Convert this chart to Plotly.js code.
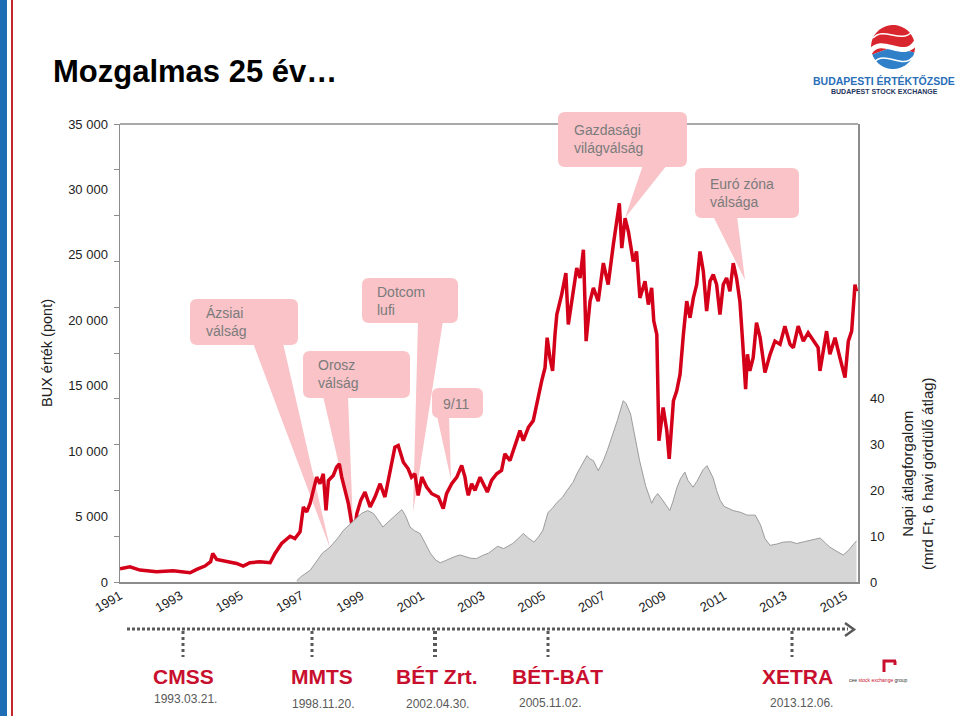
<!DOCTYPE html>
<html><head><meta charset="utf-8">
<script src="https://cdn.plot.ly/plotly-3.0.1.min.js"></script>
<style>html,body{margin:0;padding:0;background:#fff;}#chart{width:960px;height:716px;}</style>
</head><body><div id="chart"></div>
<script>
// ---- data ----
const buxYears = [
 1991.0,1991.33,1991.66,1992.21,1992.76,1993.32,1993.54,1993.81,1994.0,1994.07,
 1994.2,1994.53,1994.86,1995.08,1995.3,1995.63,1995.97,1996.13,1996.35,1996.63,
 1996.79,1996.96,1997.07,1997.18,1997.29,1997.4,1997.51,1997.62,1997.73,1997.82,
 1997.9,1998.06,1998.17,1998.26,1998.34,1998.45,1998.56,1998.67,1998.75,1998.84,
 1998.97,1999.11,1999.28,1999.44,1999.61,1999.77,1999.94,2000.1,2000.21,2000.38,
 2000.54,2000.65,2000.76,2000.87,2000.99,2001.15,2001.32,2001.54,2001.7,2001.81,
 2001.98,2002.15,2002.31,2002.42,2002.47,2002.53,2002.64,2002.75,2002.92,2003.03,
 2003.16,2003.3,2003.47,2003.63,2003.74,2003.91,2004.07,2004.24,2004.35,2004.52,
 2004.68,2004.81,2004.96,2005.07,2005.14,2005.23,2005.32,2005.4,2005.46,2005.62,
 2005.76,2005.84,2005.95,2006.12,2006.23,2006.34,2006.43,2006.56,2006.67,2006.83,
 2007.0,2007.16,2007.33,2007.44,2007.53,2007.61,2007.72,2007.83,2007.99,2008.1,
 2008.21,2008.38,2008.49,2008.6,2008.67,2008.77,2008.84,2008.98,2009.1,2009.18,
 2009.32,2009.43,2009.54,2009.65,2009.76,2009.87,2009.98,2010.09,2010.2,2010.31,
 2010.42,2010.53,2010.64,2010.75,2010.86,2010.97,2011.08,2011.19,2011.3,2011.41,
 2011.52,2011.61,2011.65,2011.71,2011.77,2011.85,2011.96,2012.07,2012.19,2012.35,
 2012.52,2012.68,2012.85,2013.01,2013.18,2013.29,2013.45,2013.62,2013.78,2013.95,
 2014.11,2014.17,2014.28,2014.39,2014.5,2014.67,2014.83,2015.0,2015.11,2015.22,
 2015.33,2015.38
];
const buxValues = [
 1000,1167,913,786,862,710,964,1217,1547,2181,
 1725,1547,1420,1217,1471,1547,1471,2181,2942,3500,
 3323,3830,5733,5352,5986,7000,8016,7509,8270,5479,
 7761,8142,8776,9030,8016,7000,5986,4463,3703,5226,
 6239,6873,5733,6493,7509,6493,8522,10297,10424,9156,
 8649,8016,8270,6620,8016,7255,6746,6493,5606,6746,
 7509,8016,8903,8016,7250,6620,7510,7000,8010,7510,
 6870,7760,8270,8520,9790,9280,10300,11570,10800,11820,
 12330,13850,15370,16380,18670,17150,16130,18920,20440,21960,
 23610,19680,21460,23990,23230,25390,18410,21460,22470,21460,
 24370,22730,25770,27540,28940,25510,27800,26780,24500,25260,
 21710,22980,21200,22470,19940,18920,10800,13340,11570,9410,
 13850,14610,15880,18920,21460,20190,21710,22730,25260,23740,
 20700,22980,23490,22730,20440,22730,23230,22220,24370,23230,
 21460,18410,17150,14740,17400,16130,17150,19810,18670,16000,
 17400,18410,18160,19550,18160,17910,19550,18410,19050,18410,
 17910,16130,17650,19170,17400,18670,17150,15620,18410,19170,
 22730,22220
];
const turnoverYears = [
 1996.85,1997.0,1997.3,1997.5,1997.7,1997.95,1998.2,1998.4,1998.6,1998.85,
 1999.0,1999.2,1999.4,1999.55,1999.7,1999.94,2000.15,2000.33,2000.45,2000.6,
 2000.75,2000.93,2001.1,2001.27,2001.45,2001.6,2001.75,2001.93,2002.1,2002.26,
 2002.45,2002.6,2002.8,2003.0,2003.2,2003.35,2003.5,2003.7,2004.0,2004.2,
 2004.35,2004.5,2004.7,2004.85,2005.0,2005.17,2005.3,2005.47,2005.65,2005.8,
 2006.0,2006.13,2006.3,2006.46,2006.55,2006.67,2006.83,2007.0,2007.13,2007.3,
 2007.46,2007.66,2007.75,2007.9,2008.05,2008.2,2008.4,2008.6,2008.7,2008.8,
 2008.95,2009.2,2009.3,2009.44,2009.55,2009.7,2009.8,2009.97,2010.1,2010.3,
 2010.43,2010.55,2010.63,2010.75,2010.87,2011.0,2011.3,2011.55,2011.76,2012.03,
 2012.2,2012.35,2012.52,2012.75,2012.95,2013.2,2013.4,2013.65,2013.85,2014.0,
 2014.18,2014.35,2014.5,2014.7,2014.94,2015.1,2015.25,2015.38
];
const turnoverValues = [
 0.3,1.2,2.6,4.5,6.3,7.6,9.5,11.3,12.6,14.1,
 15,15.6,14.9,13.5,12,13.5,14.8,15.8,14.5,12,
 11.2,10.6,8.5,6.3,4.8,4.2,4.6,5.2,5.6,5.9,
 5.6,5.2,5.1,5.8,6.3,7,7.8,7.3,8.4,9.6,
 10.6,9.7,8.7,9.8,11.3,15.2,16,17.4,18.5,20,
 21.8,23.7,25.8,27.6,26.9,26.5,24.3,26.5,28.7,32,
 35.2,39.6,39,36.7,31.5,26.5,21,17.2,18.5,19.3,
 18,15.6,17.5,20.7,22.5,24,22.2,20.7,22,24.5,
 25.4,24,22.8,20,17.8,16.5,15.6,15.2,14.6,14.6,
 12.5,9.5,8,8.3,8.7,8.8,8.4,8.8,9.1,9.4,
 9.6,8.5,7.6,6.8,5.9,6.8,8,9
];
const yearTicks = [1991,1993,1995,1997,1999,2001,2003,2005,2007,2009,2011,2013,2015];
const buxTickVals = [0,5000,10000,15000,20000,25000,30000,35000];
const buxTickText = ['0','5 000','10 000','15 000','20 000','25 000','30 000','35 000'];
const buxMarkVals = [0,3500,7000,10500,14000,17500,21000,24500,28000,31500,35000];
const turnoverTickVals = [0,10,20,30,40];
const calloutTexts = ['Ázsiai<br>válság','Orosz<br>válság','Dotcom<br>lufi','9/11','Gazdasági<br>világválság','Euró zóna<br>válsága'];
const milestoneNames = ['CMSS','MMTS','BÉT Zrt.','BÉT-BÁT','XETRA'];
const milestoneDates = ['1993.03.21.','1998.11.20.','2002.04.30.','2005.11.02.','2013.12.06.'];

// ---- layout geometry (pixels) ----
const L=120, R=858, T=124, B=582;
const X = px => (px-L)/(R-L);
const Y = py => (B-py)/(B-T);
function rrect(x0,y0,x1,y1,r){
  return `M${X(x0+r)},${Y(y0)} L${X(x1-r)},${Y(y0)} Q${X(x1)},${Y(y0)} ${X(x1)},${Y(y0+r)} `+
         `L${X(x1)},${Y(y1-r)} Q${X(x1)},${Y(y1)} ${X(x1-r)},${Y(y1)} L${X(x0+r)},${Y(y1)} `+
         `Q${X(x0)},${Y(y1)} ${X(x0)},${Y(y1-r)} L${X(x0)},${Y(y0+r)} Q${X(x0)},${Y(y0)} ${X(x0+r)},${Y(y0)} Z`;
}
function poly(pts){ return 'M'+pts.map(p=>`${X(p[0])},${Y(p[1])}`).join(' L')+' Z'; }
function pline(pts){ return 'M'+pts.map(p=>`${X(p[0])},${Y(p[1])}`).join(' L'); }

const PINK='#f9c3c8', GREYTXT='#7b7b7b', DARK='#595959', RED='#c8102e';
const FONT='Liberation Sans, Arial, sans-serif';

const calloutBoxes = [
  {b:[190,299,298,345], t:[253,283], tip:[330,548], tx:204, ty:322},
  {b:[303,351,410,398], t:[323,348], tip:[353,525], tx:316, ty:374},
  {b:[362,278,458,323], t:[418,443], tip:[413,512], tx:375, ty:301},
  {b:[432,388,483,418], t:[437,449], tip:[451,480], tx:441, ty:404},
  {b:[558,112,687,167], t:[643,667], tip:[625,218], tx:572, ty:139},
  {b:[695,168,799,218], t:[713,737], tip:[745,280], tx:708, ty:193}
];

const shapes = [];
const annotations = [];
shapes.push({type:'rect',xref:'paper',yref:'paper',x0:X(0),x1:X(7),y0:Y(716),y1:Y(0),fillcolor:'#1c6db5',line:{width:0},layer:'below'});
shapes.push({type:'rect',xref:'paper',yref:'paper',x0:X(11),x1:X(13),y0:Y(716),y1:Y(0),fillcolor:'#c4262e',line:{width:0},layer:'below'});
shapes.push({type:'line',xref:'paper',yref:'paper',x0:X(L),x1:X(R),y0:Y(T),y1:Y(T),line:{color:'#8c8c8c',width:1.5},layer:'below'});
calloutBoxes.forEach((c,i)=>{
  shapes.push({type:'path',xref:'paper',yref:'paper',path:poly([[c.t[0],c.b[3]-2],[c.t[1],c.b[3]-2],c.tip]),fillcolor:PINK,line:{width:0},layer:'below'});
  shapes.push({type:'path',xref:'paper',yref:'paper',path:rrect(c.b[0],c.b[1],c.b[2],c.b[3],7),fillcolor:PINK,line:{width:0},layer:'below'});
  annotations.push({xref:'paper',yref:'paper',x:X(c.tx),y:Y(c.ty),xanchor:'left',yanchor:'middle',align:'left',
    text:calloutTexts[i],showarrow:false,font:{family:FONT,size:14,color:GREYTXT}});
});

// timeline
shapes.push({type:'line',xref:'paper',yref:'paper',x0:X(127),x1:X(848),y0:Y(629),y1:Y(629),line:{color:DARK,width:3,dash:'3px,2px'}});
shapes.push({type:'path',xref:'paper',yref:'paper',path:pline([[845,623],[854,629.5],[845,636]]),line:{color:DARK,width:2.5}});
const dropX=[183,312,435,548,792];
const nameX=[183,322,437,557,797];
const dateX=[185,323,437,550,801];
const dateY=[699,704,704,703,703];
dropX.forEach((dx,i)=>{
  shapes.push({type:'line',xref:'paper',yref:'paper',x0:X(dx),x1:X(dx),y0:Y(631),y1:Y(657),line:{color:DARK,width:i===2?4:3,dash:'3px,3px'}});
  annotations.push({xref:'paper',yref:'paper',x:X(nameX[i]),y:Y(676),xanchor:'center',yanchor:'middle',showarrow:false,
    text:'<b>'+milestoneNames[i]+'</b>',font:{family:FONT,size:21,color:RED}});
  annotations.push({xref:'paper',yref:'paper',x:X(dateX[i]),y:Y(dateY[i]),xanchor:'center',yanchor:'middle',showarrow:false,
    text:milestoneDates[i],font:{family:FONT,size:12,color:DARK}});
});
// CEE logo
shapes.push({type:'path',xref:'paper',yref:'paper',path:pline([[896,661],[884,661],[884,672]]),line:{color:'#c8102e',width:3}});
shapes.push({type:'line',xref:'paper',yref:'paper',x0:X(895),x1:X(895),y0:Y(661),y1:Y(665),line:{color:'#c8102e',width:3}});
annotations.push({xref:'paper',yref:'paper',x:X(878),y:Y(680),xanchor:'center',yanchor:'middle',showarrow:false,
  text:'cee <span style="color:#c8102e">stock exchange</span> group',font:{family:FONT,size:5,color:'#333'}});

// BÉT logo (swirl)
const cx=893, cy=47, r=22;
function arcPath(a0,a1,n){ const pts=[]; for(let k=0;k<=n;k++){const a=a0+(a1-a0)*k/n; pts.push([cx+r*Math.cos(a), cy-r*Math.sin(a)]);} return pts; }
shapes.push({type:'path',xref:'paper',yref:'paper',path:poly([[cx,cy]].concat(arcPath(-0.25,Math.PI+0.35,24))),fillcolor:'#d9262e',line:{width:0}});
shapes.push({type:'path',xref:'paper',yref:'paper',path:poly([[cx,cy]].concat(arcPath(Math.PI+0.35,2*Math.PI-0.25,24))),fillcolor:'#2f80c8',line:{width:0}});
shapes.push({type:'path',xref:'paper',yref:'paper',path:`M${X(870)},${Y(52)} C${X(882)},${Y(34)} ${X(904)},${Y(62)} ${X(916)},${Y(42)}`,line:{color:'#ffffff',width:5}});
shapes.push({type:'path',xref:'paper',yref:'paper',path:`M${X(873)},${Y(38)} C${X(884)},${Y(26)} ${X(900)},${Y(44)} ${X(912)},${Y(32)}`,line:{color:'#ffffff',width:1.5}});
shapes.push({type:'path',xref:'paper',yref:'paper',path:`M${X(874)},${Y(62)} C${X(886)},${Y(50)} ${X(902)},${Y(70)} ${X(913)},${Y(57)}`,line:{color:'#ffffff',width:1.5}});
annotations.push({xref:'paper',yref:'paper',x:X(884),y:Y(81),xanchor:'center',yanchor:'middle',showarrow:false,
  text:'<b>BUDAPESTI ÉRTÉKTŐZSDE</b>',font:{family:FONT,size:10.5,color:'#2a6fb8'}});
annotations.push({xref:'paper',yref:'paper',x:X(884),y:Y(91),xanchor:'center',yanchor:'middle',showarrow:false,
  text:'<b>BUDAPEST STOCK EXCHANGE</b>',font:{family:FONT,size:7,color:'#1f3660'}});

// right axis title
annotations.push({xref:'paper',yref:'paper',x:X(917),y:Y(474),xanchor:'center',yanchor:'middle',showarrow:false,textangle:-90,
  text:'Napi átlagforgalom<br>(mrd Ft, 6 havi gördülő átlag)',font:{family:FONT,size:15,color:'#222'}});

const traces = [
  {x:turnoverYears,y:turnoverValues,type:'scatter',mode:'lines',yaxis:'y2',fill:'tozeroy',
   fillcolor:'#d6d6d6',line:{color:'#9c9c9c',width:1},hoverinfo:'skip',name:'Forgalom'},
  {x:buxYears,y:buxValues,type:'scatter',mode:'lines',yaxis:'y',
   line:{color:'#d4001a',width:3.5},name:'BUX'},
  {x:[],y:[],type:'scatter',mode:'lines',yaxis:'y3',showlegend:false}
];

const layout = {
  width:960,height:716,
  margin:{l:L,r:960-R,t:T,b:716-B,pad:0},
  paper_bgcolor:'#ffffff',plot_bgcolor:'rgba(0,0,0,0)',
  showlegend:false,
  font:{family:FONT,color:'#222'},
  title:{text:'<b>Mozgalmas 25 év…</b>',xref:'container',yref:'container',x:53/960,xanchor:'left',y:1-71/716,yanchor:'middle',
    font:{family:FONT,size:31,color:'#000'}},
  xaxis:{range:[1991,2015.43],tickmode:'array',tickvals:yearTicks,ticktext:yearTicks.map(String),tickangle:-30,
    showgrid:false,zeroline:false,showline:true,linecolor:'#8c8c8c',linewidth:1.5,ticks:'',
    tickfont:{family:FONT,size:13,color:'#222'},automargin:false},
  yaxis:{range:[0,35000],tickmode:'array',tickvals:buxTickVals,ticktext:buxTickText,ticks:'',
    showgrid:false,zeroline:false,showline:true,linecolor:'#8c8c8c',linewidth:1.5,ticklabelstandoff:8,
    tickfont:{family:FONT,size:13,color:'#222'},automargin:false,
    title:{text:'BUX érték (pont)',font:{family:FONT,size:14.5,color:'#222'},standoff:12}},
  yaxis3:{range:[0,35000],overlaying:'y',side:'left',tickmode:'array',tickvals:buxMarkVals,ticktext:buxMarkVals.map(()=> ''),
    ticks:'outside',ticklen:5,tickwidth:1,tickcolor:'#8c8c8c',showgrid:false,zeroline:false,showline:false,automargin:false},
  yaxis2:{range:[0,100],overlaying:'y',side:'right',tickmode:'array',tickvals:turnoverTickVals,ticks:'',
    showgrid:false,zeroline:false,showline:true,linecolor:'#8c8c8c',linewidth:1.5,ticklabelstandoff:8,
    tickfont:{family:FONT,size:13,color:'#222'},automargin:false},
  shapes:shapes,
  annotations:annotations
};
Plotly.newPlot('chart',traces,layout,{displayModeBar:false,staticPlot:true});
</script>
</body></html>
